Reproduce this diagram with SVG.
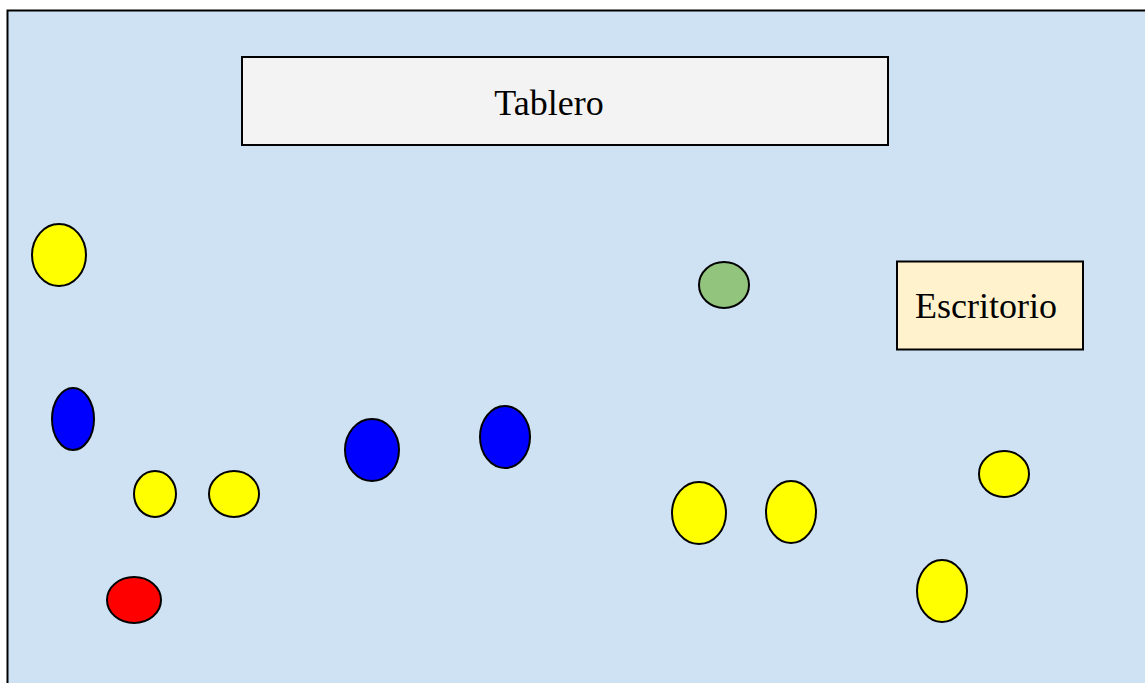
<svg xmlns="http://www.w3.org/2000/svg" width="1145" height="683" viewBox="0 0 1145 683">
<style>
.bd{stroke:#000;stroke-width:2}
.el{stroke:#000;stroke-width:2}
.y{fill:#ffff00}.b{fill:#0000ff}.r{fill:#ff0000}.g{fill:#93c47d}
text{font-family:"Liberation Serif","Times New Roman",serif;font-size:36px;fill:#000;text-anchor:middle}
</style>
<rect x="7.5" y="10.5" width="1150" height="690" fill="#cfe2f3" class="bd"/>
<g id="tablero"><rect x="242" y="57" width="646" height="88" fill="#f3f3f3" class="bd"/><text x="549" y="115">Tablero</text></g>
<g id="escritorio"><rect x="897" y="261.5" width="186" height="88" fill="#fff2cc" class="bd"/><text x="986" y="318">Escritorio</text></g>
<g id="n1"><ellipse cx="59" cy="255" rx="27" ry="31" class="el y"/></g>
<g id="n2"><ellipse cx="73" cy="419" rx="21" ry="31" class="el b"/></g>
<g id="n3"><ellipse cx="155" cy="494" rx="21" ry="23" class="el y"/></g>
<g id="n4"><ellipse cx="234" cy="494" rx="25" ry="23" class="el y"/></g>
<g id="n5"><ellipse cx="134" cy="600" rx="27" ry="23" class="el r"/></g>
<g id="n6"><ellipse cx="372" cy="450" rx="27" ry="31" class="el b"/></g>
<g id="n7"><ellipse cx="505" cy="437" rx="25" ry="31" class="el b"/></g>
<g id="n8"><ellipse cx="724" cy="285" rx="25" ry="23" class="el g"/></g>
<g id="n9"><ellipse cx="699" cy="513" rx="27" ry="31" class="el y"/></g>
<g id="n10"><ellipse cx="791" cy="512" rx="25" ry="31" class="el y"/></g>
<g id="n11"><ellipse cx="1004" cy="474" rx="25" ry="23" class="el y"/></g>
<g id="n12"><ellipse cx="942" cy="591" rx="25" ry="31" class="el y"/></g>
<g id="connectors"/>
</svg>
